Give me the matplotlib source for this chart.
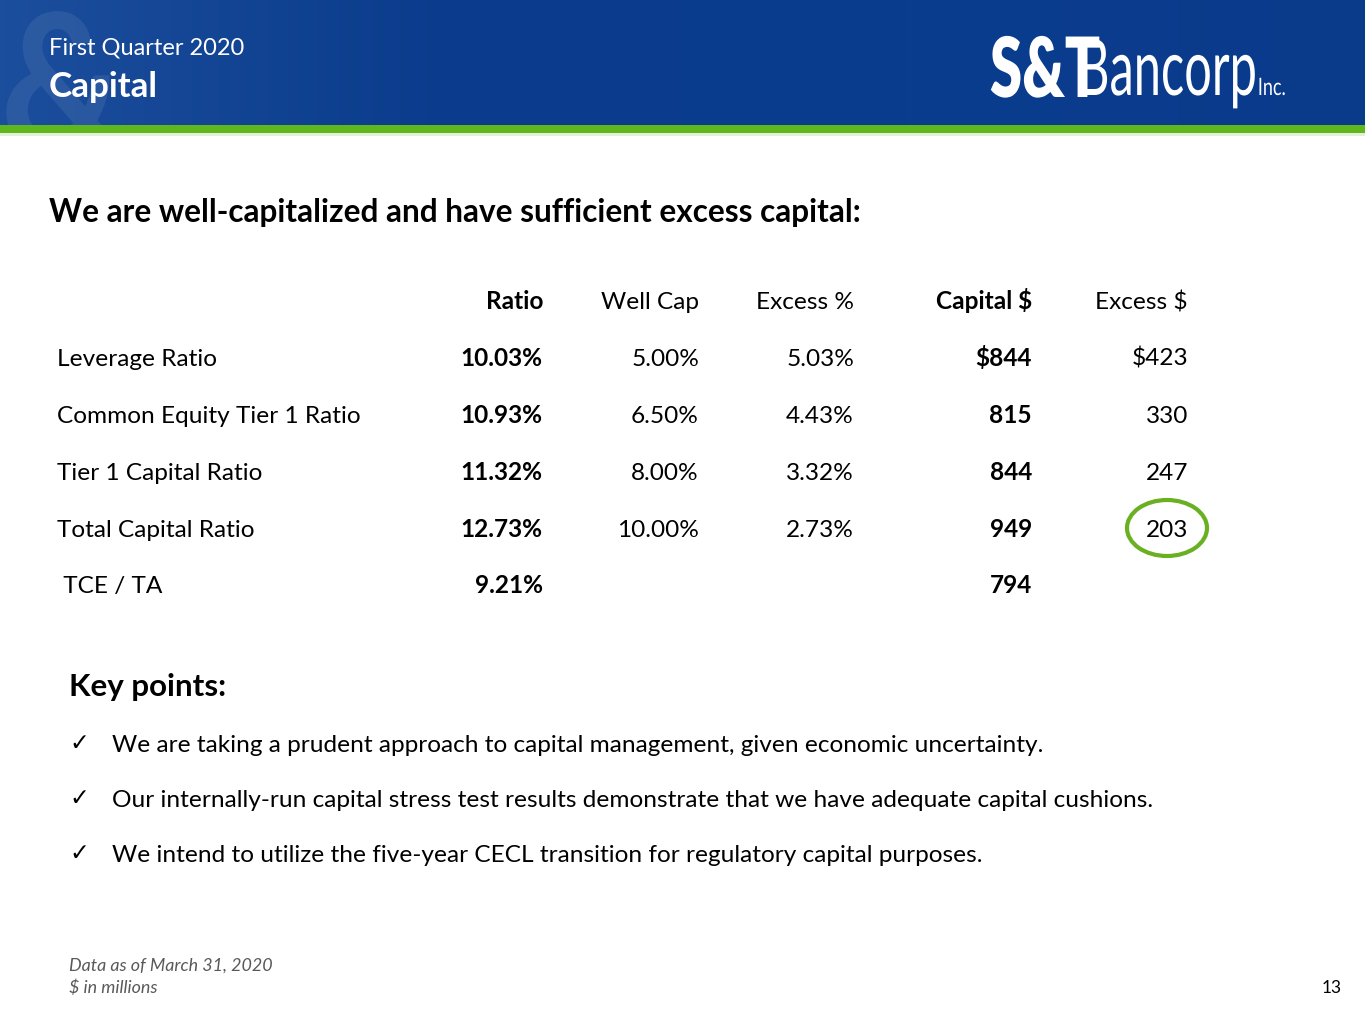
import matplotlib
matplotlib.use("Agg")
import matplotlib.pyplot as plt
import numpy as np
from matplotlib.patches import Ellipse, Rectangle, PathPatch
from matplotlib.textpath import TextPath
from matplotlib.font_manager import FontProperties
from matplotlib.transforms import Affine2D

plt.rcParams["font.family"] = ["Lato", "DejaVu Sans"]

# slide text
kicker = "First Quarter 2020"
title = "Capital"
headline = "We are well-capitalized and have sufficient excess capital:"

# table data
columns = ["Ratio", "Well Cap", "Excess %", "Capital $", "Excess $"]
bold_columns = [True, False, False, True, False]
row_labels = ["Leverage Ratio", "Common Equity Tier 1 Ratio", "Tier 1 Capital Ratio",
              "Total Capital Ratio", " TCE / TA"]
ratio = ["10.03%", "10.93%", "11.32%", "12.73%", "9.21%"]
well_cap = ["5.00%", "6.50%", "8.00%", "10.00%", ""]
excess_pct = ["5.03%", "4.43%", "3.32%", "2.73%", ""]
capital = ["$844", "815", "844", "949", "794"]
excess_usd = ["$423", "330", "247", "203", ""]
highlight = (3, 4)  # row, column circled

key_points = [
    "We are taking a prudent approach to capital management, given economic uncertainty.",
    "Our internally-run capital stress test results demonstrate that we have adequate capital cushions.",
    "We intend to utilize the five-year CECL transition for regulatory capital purposes.",
]
footnotes = ["Data as of March 31, 2020", "$ in millions"]
page_no = "13"

GREEN = "#5eb71c"
W, H = 1365, 1024
BODY = 17.6

fig = plt.figure(figsize=(W / 100, H / 100), dpi=100)
ax = fig.add_axes([0, 0, 1, 1])
ax.set_xlim(0, W)
ax.set_ylim(H, 0)
ax.axis("off")


def draw_word(s, x, base, size, sx, weight="normal", alpha=1.0, z=3):
    tp = TextPath((0, 0), s, size=1, prop=FontProperties(family="Lato", weight=weight))
    tr = Affine2D().scale(size * sx, -size).translate(x, base) + ax.transData
    ax.add_patch(PathPatch(tp, transform=tr, facecolor="white", alpha=alpha, lw=0, zorder=z))
    return tp.get_extents().x1 * size * sx


# header band with soft gradient
grad = np.linspace(0, 1, 256)[None, :]
cmap = matplotlib.colors.LinearSegmentedColormap.from_list("hdr", ["#1b4e9c", "#0a3b8c", "#0b3d8f", "#0a3a8a"])
ax.imshow(grad, extent=[0, W, 125, 0], cmap=cmap, aspect="auto", zorder=0)
draw_word("&", 0, 150, 190, 0.9, weight="bold", alpha=0.08, z=1)
ax.add_patch(Rectangle((0, 125), W, 8, color=GREEN, lw=0, zorder=2))
ax.add_patch(Rectangle((0, 133), W, 3, color="#e4efd8", lw=0, zorder=2))

ax.text(49, 55, kicker, color="white", fontsize=17, ha="left", va="baseline")
ax.text(49, 97, title, color="white", fontsize=25.2, fontweight="bold", ha="left", va="baseline")

# logo
draw_word("S&T", 990, 97, 83, 0.70, weight="heavy")
w2 = draw_word("Bancorp", 1078, 95, 78, 0.625)
draw_word("Inc.", 1081 + w2, 95, 24, 0.75)

ax.text(49, 222, headline, color="black", fontsize=22.7, fontweight="bold", ha="left", va="baseline")

# table
col_right = [543, 699, 854, 1032, 1188]
header_base = 309
row_base = [366, 423, 480, 537, 593]
values = [ratio, well_cap, excess_pct, capital, excess_usd]
for cx, name, b in zip(col_right, columns, bold_columns):
    ax.text(cx, header_base, name, fontsize=BODY, fontweight="bold" if b else "normal",
            ha="right", va="baseline")
for i, yb in enumerate(row_base):
    ax.text(57, yb, row_labels[i], fontsize=BODY, ha="left", va="baseline")
    for j, (cx, col) in enumerate(zip(col_right, values)):
        ax.text(cx, yb, col[i], fontsize=BODY, fontweight="bold" if bold_columns[j] else "normal",
                ha="right", va="baseline")

r, c = highlight
ax.add_patch(Ellipse((col_right[c] - 21, row_base[r] - 9), 80, 56, fill=False,
                     edgecolor="#6ab023", lw=3, zorder=4))

# key points
ax.text(69, 696, "Key points:", fontsize=22.6, fontweight="bold", ha="left", va="baseline")
for k, line in enumerate(key_points):
    yb = 752 + 55 * k
    ax.text(69, yb - 2, "\u2713", fontsize=17, ha="left", va="baseline", family="DejaVu Sans")
    ax.text(112, yb, line, fontsize=BODY, ha="left", va="baseline")

for k, note in enumerate(footnotes):
    ax.text(69, 971 + 22 * k, note, fontsize=12.9, style="italic", color="#595959",
            ha="left", va="baseline")
ax.text(1342, 993, page_no, fontsize=12.5, ha="right", va="baseline")

fig.savefig("out.png", dpi=100)
